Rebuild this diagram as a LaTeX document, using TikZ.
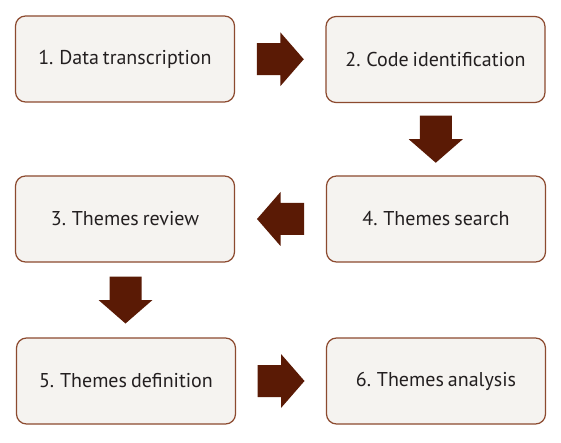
\documentclass[tikz,border=0pt]{standalone}
\usepackage{fontspec}
\setmainfont[WordSpace=0.75]{PT Sans}
\usetikzlibrary{calc}
\definecolor{boxfill}{HTML}{F5F3F0}
\definecolor{boxline}{HTML}{8C4A2F}
\definecolor{arrowfill}{HTML}{5A1A05}
\definecolor{txt}{HTML}{231F20}
\tikzset{
  stepbox/.style={draw=boxline, line width=1.2pt, fill=boxfill, rounded corners=10pt,
    minimum width=219pt, minimum height=86pt, inner sep=0pt, text=txt,
    font=\fontsize{20}{22}\selectfont},
  blockarrow/.style={fill=arrowfill, draw=none}
}
\newcommand{\blockarr}[2]{%
  \fill[blockarrow, shift={(#1)}, rotate=#2] (-23.5,-16) -- (0,-16) -- (0,-27) -- (23.5,0) -- (0,27) -- (0,16) -- (-23.5,16) -- cycle;}
\begin{document}
\begin{tikzpicture}[x=1pt, y=-1pt]
\useasboundingbox (0,0) rectangle (561,443);
\fill[white] (0,0) rectangle (561,443);
\node[stepbox] (b1) at (125,59) {1. Data transcription};
\node[stepbox] (b2) at (435.5,59.5) {2. Code identification};
\node[stepbox] (b3) at (125,219) {3. Themes review};
\node[stepbox] (b4) at (436,219) {4. Themes search};
\node[stepbox] (b5) at (126,381) {5. Themes definition};
\node[stepbox] (b6) at (436,381) {6. Themes analysis};
\coordinate (m12) at ($(b1.east)!0.5!(b2.west)$);
\coordinate (m24) at ($(b2.south)!0.5!(b4.north)$);
\coordinate (m43) at ($(b4.west)!0.5!(b3.east)$);
\coordinate (m35) at ($(b3.south)!0.5!(b5.north)$);
\coordinate (m56) at ($(b5.east)!0.5!(b6.west)$);
\blockarr{m12}{0}
\blockarr{m24}{-90}
\blockarr{m43}{180}
\blockarr{m35}{-90}
\blockarr{m56}{0}
\end{tikzpicture}
\end{document}
